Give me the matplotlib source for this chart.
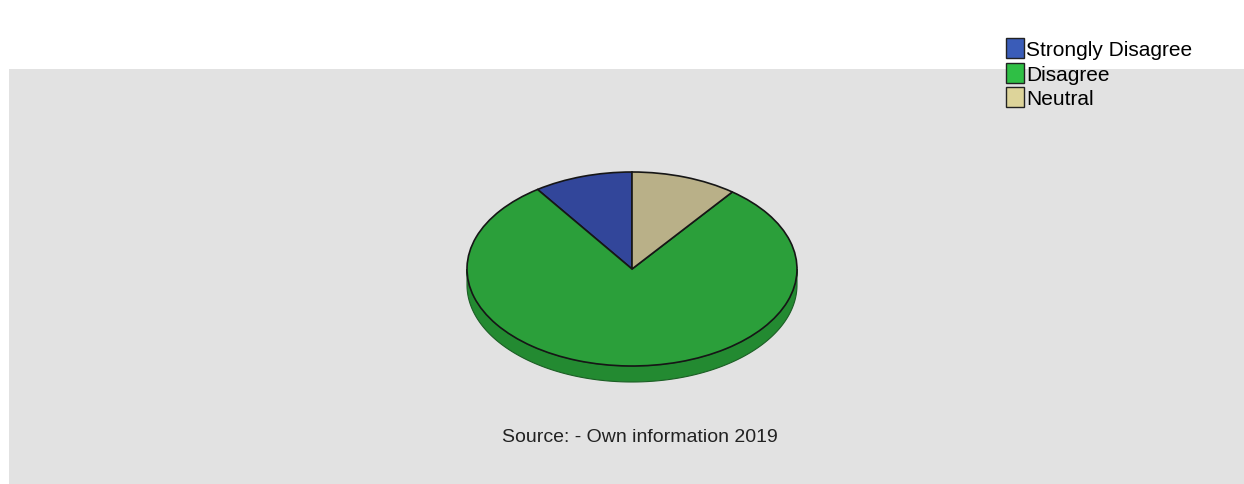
import numpy as np
import matplotlib.pyplot as plt
from matplotlib.patches import Rectangle, Polygon, Patch

plt.rcParams["font.family"] = ["Liberation Sans", "DejaVu Sans"]

# survey answers (percent)
labels = ["Strongly Disagree", "Disagree", "Neutral"]
values = [9.7, 79.9, 10.4]
top_colors = ["#32469a", "#2b9f3a", "#b9b088"]
legend_colors = ["#3a5cb8", "#2fbf45", "#ddd49a"]
side_color = "#238a31"
source_note = "Source: - Own information 2019"

W, H = 1244, 485
fig = plt.figure(figsize=(W / 100, H / 100), dpi=100)
fig.patch.set_facecolor("white")

# grey plot panel
fig.patches.append(Rectangle((9 / W, 0), 1 - 9 / W, (H - 70) / H,
                             transform=fig.transFigure, facecolor="#e2e2e2",
                             edgecolor="none", zorder=-5))

# pie geometry in pixels
cx, cy = 632, 270
rx, ry = 165, 97
depth = 16 / ry

# axes box in pixels (left, top, right, bottom)
pl, pt, pr, pb = 440, 160, 830, 400
ax = fig.add_axes([pl / W, (H - pb) / H, (pr - pl) / W, (pb - pt) / H])
ax.set_zorder(2)
ax.patch.set_alpha(0)

# side of the disc (lower half)
t = np.linspace(np.pi, 2 * np.pi, 200)
xs = np.concatenate([np.cos(t), np.cos(t[::-1])])
ys = np.concatenate([np.sin(t), np.sin(t[::-1]) - depth])
ax.add_patch(Polygon(np.column_stack([xs, ys]), closed=True,
                     facecolor=side_color, edgecolor="#1c5e25",
                     linewidth=0.8, zorder=1))

wedges, _ = ax.pie(values, colors=top_colors, startangle=90, counterclock=True,
                   wedgeprops=dict(edgecolor="#161616", linewidth=1.2),
                   radius=1.0)
for w in wedges:
    w.set_zorder(2)

ax.set_aspect("auto")
ax.set_xlim((pl - cx) / rx, (pr - cx) / rx)
ax.set_ylim(-(pb - cy) / ry, (cy - pt) / ry)
ax.axis("off")

handles = [Patch(facecolor=c, edgecolor="#222222", linewidth=1.0) for c in legend_colors]
fig.legend(handles, labels, loc="upper left", bbox_to_anchor=(998 / W, 1 - 31 / H),
           frameon=False, fontsize=15, handlelength=0.85, handleheight=1.1,
           handletextpad=0.1, labelspacing=0.15, borderaxespad=0)

fig.text(640 / W, 1 - 438 / H, source_note, ha="center", va="center",
         fontsize=14, color="#222222")

plt.savefig("out.png", dpi=100)
